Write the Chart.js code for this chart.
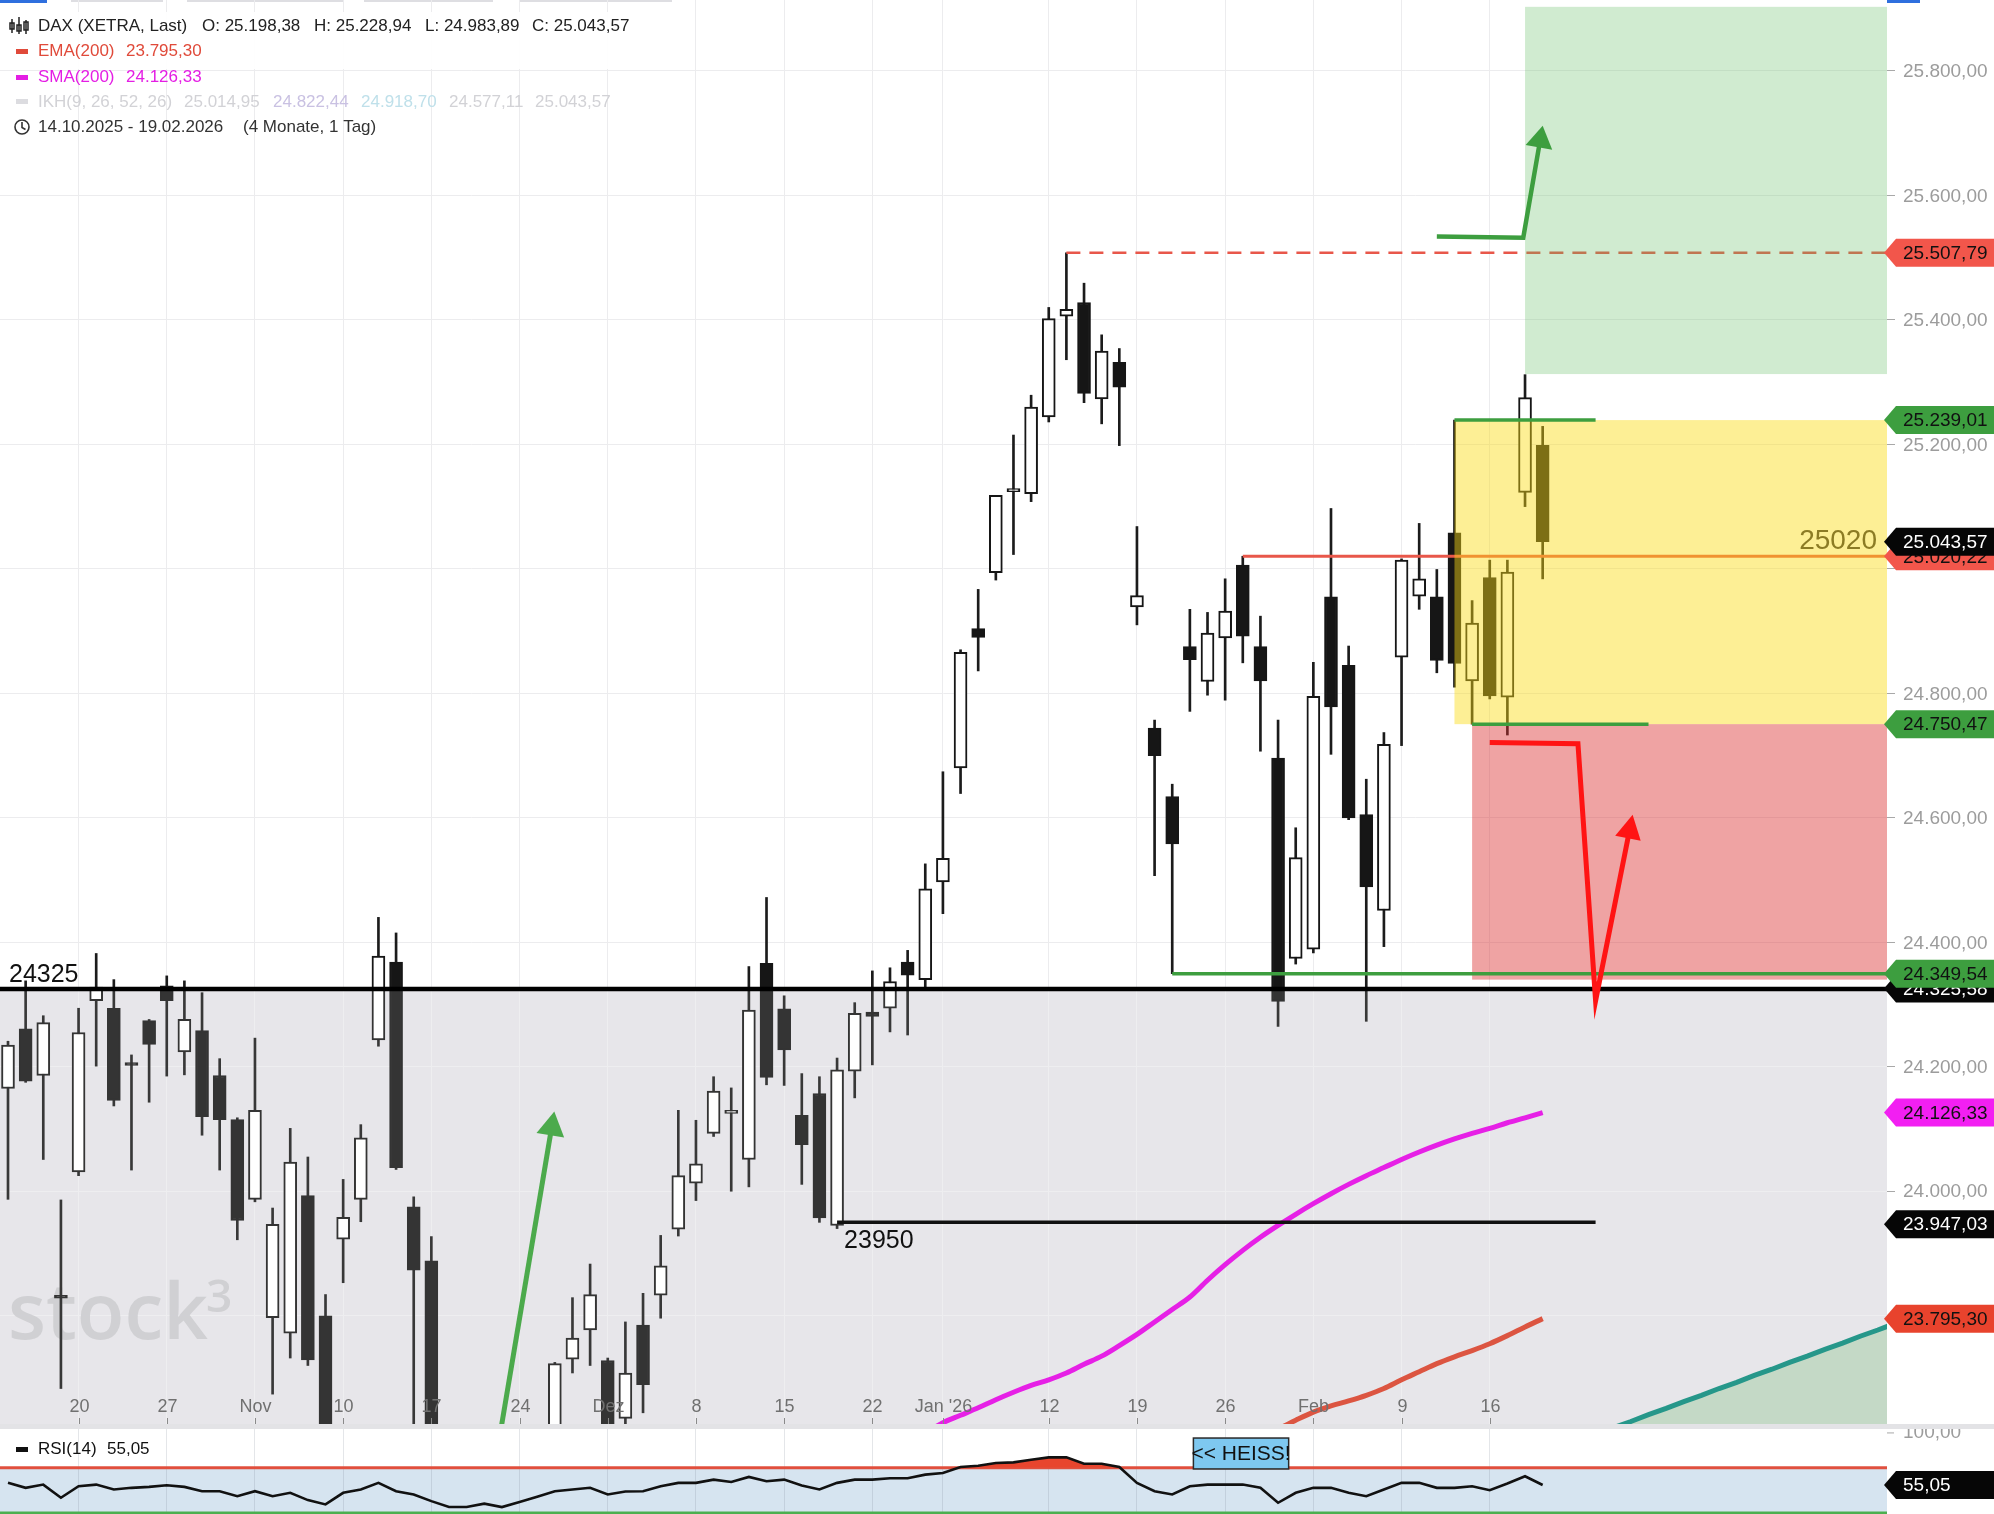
<!DOCTYPE html>
<html>
<head>
<meta charset="utf-8">
<title>DAX (XETRA) – Tageschart</title>
<script src="https://cdn.jsdelivr.net/npm/chart.js@4.4.1/dist/chart.umd.min.js"></script>
<style>
  html, body { margin: 0; padding: 0; background: #ffffff; }
  #wrap { position: relative; width: 1994px; height: 1514px; overflow: hidden; background: #ffffff; }
  #main { position: absolute; left: 0; top: 0; width: 1994px; height: 1424px; }
  #sep { position: absolute; left: 0; top: 1424px; width: 1994px; height: 5px; background: #e3e3e6; }
  #rsi { position: absolute; left: 0; top: 1429px; width: 1994px; height: 85px; }
</style>
</head>
<body>
<div id="wrap">
  <canvas id="main" width="1994" height="1424"></canvas>
  <div id="sep"></div>
  <canvas id="rsi" width="1994" height="85"></canvas>
</div>
<script>
// ---------- trading sessions (XETRA) ----------
const sessions = [
  '14.10.2025','15.10.2025','16.10.2025','17.10.2025','20.10.2025','21.10.2025','22.10.2025','23.10.2025','24.10.2025',
  '27.10.2025','28.10.2025','29.10.2025','30.10.2025','31.10.2025',
  '03.11.2025','04.11.2025','05.11.2025','06.11.2025','07.11.2025','10.11.2025','11.11.2025','12.11.2025','13.11.2025','14.11.2025',
  '17.11.2025','18.11.2025','19.11.2025','20.11.2025','21.11.2025','24.11.2025','25.11.2025','26.11.2025','27.11.2025','28.11.2025',
  '01.12.2025','02.12.2025','03.12.2025','04.12.2025','05.12.2025','08.12.2025','09.12.2025','10.12.2025','11.12.2025','12.12.2025',
  '15.12.2025','16.12.2025','17.12.2025','18.12.2025','19.12.2025','22.12.2025','23.12.2025','29.12.2025','30.12.2025',
  '02.01.2026','05.01.2026','06.01.2026','07.01.2026','08.01.2026','09.01.2026','12.01.2026','13.01.2026','14.01.2026','15.01.2026','16.01.2026',
  '19.01.2026','20.01.2026','21.01.2026','22.01.2026','23.01.2026','26.01.2026','27.01.2026','28.01.2026','29.01.2026','30.01.2026',
  '02.02.2026','03.02.2026','04.02.2026','05.02.2026','06.02.2026','09.02.2026','10.02.2026','11.02.2026','12.02.2026','13.02.2026',
  '16.02.2026','17.02.2026','18.02.2026','19.02.2026'
];

// ---------- OHLC ----------
const open = [
  24165,24261,24186,23832,24031,24306,24294,24204,24274,24330,
  24224,24258,24186,24115,23987,23797,23772,23993,23800,23923,
  23987,24243,24368,23975,23888,23560,23300,23250,23220,23150,
  23250,23460,23730,23777,23728,23635,23785,23833,23939,24013,
  24093,24125,24051,24366,24293,24122,24157,23945,24193,24288,
  24294,24368,24340,24497,24680,24904,24994,25124,25121,25244,
  25406,25428,25273,25332,24939,24744,24634,24875,24819,24889,
  25006,24875,24696,24374,24389,24955,24845,24605,24451,24858,
  24956,24955,25058,24820,24986,24794,25123,25198.38
];
const high = [
  24241,24338,24282,23986,24294,24382,24340,24219,24276,24346,
  24338,24319,24213,24118,24246,23973,24101,24055,23834,24019,
  24107,24440,24415,23991,23927,23600,23380,23520,23330,23290,
  23510,23725,23829,23883,23732,23790,23836,23929,24130,24114,
  24184,24166,24361,24472,24314,24189,24184,24214,24303,24354,
  24359,24387,24526,24674,24870,24967,25118,25215,25279,25420,
  25507.79,25459,25376,25354,25068,24757,24654,24935,24930,24984,
  25020.22,24924,24757,24584,24850,25097,24876,24662,24737,25016,
  25073,24999,25239.01,24949,25014,25014,25312,25228.94
];
const low = [
  23987,24175,24051,23683,24025,24201,24137,24034,24143,24185,
  24187,24090,24034,23922,23983,23674,23732,23720,23450,23853,
  23951,24233,24035,23520,23510,23230,23140,23120,22960,23060,
  23200,23440,23708,23720,23560,23600,23644,23796,23928,23985,
  24088,24000,24007,24171,24170,24011,23950,23940,24150,24203,
  24256,24251,24324,24446,24639,24836,24982,25023,25108,25236,
  25336,25267,25233,25198,24910,24507,24349.54,24771,24797,24789,
  24849,24707,24265,24365,24383,24702,24597,24273,24393,24716,
  24935,24833,24810,24750.47,24791,24733,25100,24983.89
];
const close = [
  24235,24177,24271,23828,24255,24328,24146,24202,24236,24306,
  24276,24120,24115,23953,24130,23947,24047,23729,23520,23958,
  24086,24378,24038,23873,23560,23280,23180,23300,23090,23240,
  23460,23723,23764,23834,23590,23708,23689,23880,24025,24044,
  24161,24129,24291,24183,24227,24075,23957,24195,24286,24281,
  24337,24347,24486,24535,24866,24890,25118,25128,25260,25402,
  25417,25282,25350,25292,24957,24700,24558,24854,24897,24932,
  24892,24820,24305,24536,24795,24778,24600,24489,24718,25014,
  24984,24853,24848,24913,24796,24995,25275,25043.57
];

// ---------- moving averages (visible part) ----------
const sma200Start = 50;
const sma200 = [
  23590,23600,23612,23628,23640,23652,23665,23677,23688,23697,
  23708,23722,23735,23752,23770,23790,23810,23830,23857,23882,
  23905,23926,23945,23963,23980,23996,24011,24025,24038,24051,
  24063,24074,24084,24093,24101,24110,24118,24126.33
];
const ema200Start = 70;
const ema200 = [
  23590,23605,23618,23632,23645,23655,23663,23672,23683,23697,
  23710,23723,23734,23744,23755,23768,23782,23795.30
];

// ---------- Ichimoku span projected into the future ----------
const cloudStart = 88;
const cloudSpan = [
  23588,23599,23609,23620,23630,23641,23651,23662,23672,23683,
  23693,23704,23714,23725,23735,23746,23756,23767,23777,23788
];

// ---------- RSI(14) ----------
const rsi14 = [
  56.9,52.6,55.4,44.0,54.0,55.4,51.2,52.6,53.4,54.8,
  53.4,49.7,49.7,45.4,49.7,45.4,48.3,42.0,38.3,48.3,
  51.2,56.9,49.7,46.9,41.1,36.0,36.0,38.9,36.0,40.3,
  44.9,49.7,51.2,52.6,46.9,49.4,49.7,54.0,56.9,56.9,
  59.7,57.7,62.0,58.3,59.7,54.6,51.2,56.9,59.7,59.7,
  60.9,60.9,64.0,65.4,70.6,71.7,74.0,74.6,76.9,78.9,
  78.9,73.4,73.4,70.6,56.9,49.7,46.9,54.0,55.4,55.4,
  55.4,52.6,39.7,48.3,52.6,52.6,48.3,45.4,51.2,56.9,
  56.9,52.6,52.6,54.0,50.6,56.3,62.6,55.05
];

// ---------- axes ----------
const weekTickIdx = [4, 9, 14, 19, 24, 29, 34, 39, 44, 49, 53, 59, 64, 69, 74, 79, 84];
const weekTickLbl = ['20', '27', 'Nov', '10', '17', '24', 'Dez', '8', '15', '22', "Jan '26", '12', '19', '26', 'Feb', '9', '16'];
const xMin = -0.4535;
const xMax = 106.52;
const priceMin = 23626;
const priceMax = 25914;
const priceStep = 200;
const hiddenPriceTicks = [25000, 23800];

// ---------- drawn levels and trade setup ----------
const supportLevel = 24325;
const lowerLevel = 23950;
const lowerLevelSpan = [47, 90];
const highLevel = 25507.79;
const highLevelStart = 60;
const midLevel = 25020.22;
const midLevelStart = 70;
const midLevelText = '25020';
const swingLow = 24349.54;
const swingLowStart = 66;
const entryHigh = 25239.01;
const entrySpan = [82, 90];
const stopLevel = 24750.47;
const stopSpan = [83, 93];
const riskZoneBottom = 24340;
const targetZone = [86, 25313, 25903];

// arrows as [session index, price]
const upArrowPath = [[81.0, 25534], [85.9, 25532], [87.0, 25712]];
const downArrowPath = [[84.0, 24721], [89.0, 24719], [90.0, 24306], [92.1, 24605]];
const riseArrowPath = [[27.75, 23585], [30.97, 24128]];

// price tags on the right axis
const tagValues = [25507.79, 25239.01, 25020.22, 25043.57, 24750.47, 24325.58, 24349.54, 24126.33, 23947.03, 23795.30];
const tagFills  = ['#f2564b', '#3d9e3f', '#f2564b', '#060606', '#3d9e3f', '#060606', '#3d9e3f', '#f21ff2', '#060606', '#e8432d'];
const tagInks   = ['#111111', '#111111', '#111111', '#ffffff', '#111111', '#ffffff', '#111111', '#111111', '#ffffff', '#111111'];

// RSI annotations
const rsiUpper = 70;
const rsiLower = 30;
const rsiMin = 30;
const rsiMax = 103.4;
const hotBox = [67.2, 72.6, 95.6, 68.9];

// ---------- helpers ----------
const FONT = '"Liberation Sans", Arial, Helvetica, sans-serif';
Chart.defaults.font.family = FONT;

function fmtDE(v) {
  const s = Math.abs(v).toFixed(2).split('.');
  const int = s[0].replace(/\B(?=(\d{3})+(?!\d))/g, '.');
  return (v < 0 ? '-' : '') + int + ',' + s[1];
}

function drawTag(ctx, left, right, yc, text, fill, ink) {
  const h = 28;
  ctx.beginPath();
  ctx.moveTo(left - 3, yc);
  ctx.lineTo(left + 9, yc - h / 2);
  ctx.lineTo(right, yc - h / 2);
  ctx.lineTo(right, yc + h / 2);
  ctx.lineTo(left + 9, yc + h / 2);
  ctx.closePath();
  ctx.fillStyle = fill;
  ctx.fill();
  ctx.fillStyle = ink;
  ctx.font = '19px ' + FONT;
  ctx.textAlign = 'left';
  ctx.textBaseline = 'middle';
  ctx.fillText(text, left + 16, yc + 1);
}

function drawArrow(ctx, pts, color, lw, headLen, headW) {
  const n = pts.length;
  const [tx, ty] = pts[n - 1];
  const [sx, sy] = pts[n - 2];
  const ang = Math.atan2(ty - sy, tx - sx);
  const c = Math.cos(ang), s = Math.sin(ang);
  const bx = tx - c * headLen, by = ty - s * headLen;
  ctx.strokeStyle = color;
  ctx.lineWidth = lw;
  ctx.lineJoin = 'miter';
  ctx.lineCap = 'butt';
  ctx.beginPath();
  ctx.moveTo(pts[0][0], pts[0][1]);
  for (let i = 1; i < n - 1; i++) ctx.lineTo(pts[i][0], pts[i][1]);
  ctx.lineTo(bx + c * 2, by + s * 2);
  ctx.stroke();
  ctx.fillStyle = color;
  ctx.beginPath();
  ctx.moveTo(tx, ty);
  ctx.lineTo(bx - s * headW / 2, by + c * headW / 2);
  ctx.lineTo(bx + s * headW / 2, by - c * headW / 2);
  ctx.closePath();
  ctx.fill();
}

function hLine(ctx, x0, x1, y, color, w, dash) {
  ctx.save();
  ctx.strokeStyle = color;
  ctx.lineWidth = w;
  ctx.setLineDash(dash || []);
  ctx.beginPath();
  ctx.moveTo(x0, y);
  ctx.lineTo(x1, y);
  ctx.stroke();
  ctx.restore();
}

// ---------- datasets ----------
const idx = sessions.map((_, i) => i);
const wickData = idx.map(i => ({ x: i, y: [low[i], high[i]] }));
const bodyData = idx.map(i => ({ x: i, y: [open[i], close[i]] }));
const bodyFill = idx.map(i => (close[i] >= open[i] ? '#ffffff' : '#161616'));
const smaData = sma200.map((v, k) => ({ x: sma200Start + k, y: v }));
const emaData = ema200.map((v, k) => ({ x: ema200Start + k, y: v }));
const cloudData = cloudSpan.map((v, k) => ({ x: cloudStart + k, y: v }));
const rsiData = rsi14.map((v, i) => ({ x: i, y: v }));

const BODY_DS = 1;

function timeAxis(gridColor) {
  return {
    type: 'linear', min: xMin, max: xMax, offset: false,
    border: { display: false },
    ticks: { display: false },
    grid: { color: gridColor, lineWidth: 1, drawTicks: false, offset: false },
    afterBuildTicks: (s) => { s.ticks = weekTickIdx.map(v => ({ value: v })); },
    afterFit: (s) => { s.height = 0; }
  };
}

// ---------- main price panel decorations ----------
const mainDecor = {
  id: 'mainDecor',
  beforeDraw(chart) {
    const { ctx, chartArea: a, scales: { y } } = chart;
    ctx.save();
    ctx.fillStyle = '#ffffff';
    ctx.fillRect(0, 0, chart.width, chart.height);
    const ys = y.getPixelForValue(supportLevel);
    ctx.fillStyle = '#e4e3e7';
    ctx.fillRect(a.left, ys, a.right - a.left, a.bottom - ys);
    // tab strip along the top edge
    ctx.fillStyle = '#2f6fde';
    ctx.fillRect(0, 0, 47, 3);
    ctx.fillRect(1887, 0, 33, 3);
    ctx.fillStyle = '#dedee2';
    [[71, 163], [187, 344], [364, 493], [520, 672]].forEach(([l, r]) => ctx.fillRect(l, 0, r - l, 2));
    ctx.restore();
  },
  beforeDatasetsDraw(chart) {
    const { ctx } = chart;
    ctx.save();
    ctx.fillStyle = 'rgba(196,196,200,0.85)';
    ctx.textBaseline = 'alphabetic';
    ctx.textAlign = 'left';
    ctx.font = '600 78px "Open Sans", ' + FONT;
    ctx.fillText('stock', 8, 1339);
    ctx.font = '600 46px "Open Sans", ' + FONT;
    ctx.fillText('3', 206, 1312);
    ctx.restore();
  },
  afterDatasetDraw(chart, args) {
    if (args.index !== BODY_DS) return;
    const { ctx, chartArea: a, scales: { y } } = chart;
    const ys = y.getPixelForValue(supportLevel);
    ctx.save();
    ctx.fillStyle = 'rgba(255,255,255,0.13)';
    ctx.fillRect(a.left, ys, a.right - a.left, a.bottom - ys);
    ctx.restore();
  },
  afterDatasetsDraw(chart) {
    const { ctx, chartArea: a, scales: { x, y } } = chart;
    const X = v => x.getPixelForValue(v);
    const Y = v => y.getPixelForValue(v);
    ctx.save();
    ctx.beginPath();
    ctx.rect(a.left, a.top, a.right - a.left, a.bottom - a.top);
    ctx.clip();

    // horizontal levels
    hLine(ctx, X(highLevelStart), a.right, Y(highLevel), '#e8574a', 2.5, [14, 9]);
    hLine(ctx, X(midLevelStart), a.right, Y(midLevel), '#e8574a', 3);
    hLine(ctx, X(lowerLevelSpan[0]), X(lowerLevelSpan[1]), Y(lowerLevel), '#111111', 3.5);
    hLine(ctx, a.left, a.right, Y(supportLevel), '#000000', 4.5);

    // trade setup zones
    ctx.fillStyle = 'rgba(250,220,20,0.45)';
    ctx.fillRect(X(entrySpan[0]), Y(entryHigh), a.right - X(entrySpan[0]), Y(stopLevel) - Y(entryHigh));
    ctx.fillStyle = 'rgba(220,50,50,0.45)';
    ctx.fillRect(X(stopSpan[0]), Y(stopLevel), a.right - X(stopSpan[0]), Y(riskZoneBottom) - Y(stopLevel));
    ctx.fillStyle = 'rgba(100,190,100,0.30)';
    ctx.fillRect(X(targetZone[0]), Y(targetZone[2]), a.right - X(targetZone[0]), Y(targetZone[1]) - Y(targetZone[2]));

    hLine(ctx, X(entrySpan[0]), X(entrySpan[1]), Y(entryHigh), '#3d9e3f', 3.5);
    hLine(ctx, X(stopSpan[0]), X(stopSpan[1]), Y(stopLevel), '#3d9e3f', 3.5);
    hLine(ctx, X(swingLowStart), a.right, Y(swingLow), '#3d9e3f', 3.5);

    // arrows
    const toPx = path => path.map(([i, v]) => [X(i), Y(v)]);
    drawArrow(ctx, toPx(upArrowPath), '#3d9e3f', 4.5, 22, 27);
    drawArrow(ctx, toPx(downArrowPath), '#ff1414', 5, 24, 26);
    drawArrow(ctx, toPx(riseArrowPath), '#4caa4c', 5, 24, 28);

    // level captions
    ctx.fillStyle = '#111111';
    ctx.font = '25px ' + FONT;
    ctx.textAlign = 'left';
    ctx.textBaseline = 'alphabetic';
    ctx.fillText(String(supportLevel), a.left + 9, Y(supportLevel) - 7);
    ctx.textBaseline = 'top';
    ctx.fillText(String(lowerLevel), X(lowerLevelSpan[0]) + 7, Y(lowerLevel) + 6);
    ctx.fillStyle = '#8c7b24';
    ctx.font = '28px ' + FONT;
    ctx.textAlign = 'right';
    ctx.textBaseline = 'alphabetic';
    ctx.fillText(midLevelText, a.right - 10, Y(midLevel) - 7);

    // time labels inside the panel
    ctx.fillStyle = '#707070';
    ctx.font = '18px ' + FONT;
    ctx.textAlign = 'center';
    ctx.textBaseline = 'middle';
    ctx.strokeStyle = '#8a8a8a';
    ctx.lineWidth = 1;
    weekTickIdx.forEach((i, k) => {
      const px = Math.round(X(i)) + 0.5;
      ctx.fillText(weekTickLbl[k], px, a.bottom - 17);
      ctx.beginPath();
      ctx.moveTo(px, a.bottom - 6);
      ctx.lineTo(px, a.bottom);
      ctx.stroke();
    });
    ctx.restore();
  },
  afterDraw(chart) {
    const { ctx, chartArea: a, scales: { y } } = chart;
    ctx.save();
    // price scale labels
    ctx.fillStyle = '#9c9c9c';
    ctx.font = '19px ' + FONT;
    ctx.textAlign = 'left';
    ctx.textBaseline = 'middle';
    for (let v = Math.ceil(priceMin / priceStep) * priceStep; v <= priceMax; v += priceStep) {
      if (hiddenPriceTicks.includes(v)) continue;
      ctx.fillText(fmtDE(v), a.right + 16, y.getPixelForValue(v) + 1);
    }

    // price tags
    tagValues.forEach((v, k) => drawTag(ctx, a.right, chart.width, y.getPixelForValue(v), fmtDE(v), tagFills[k], tagInks[k]));

    // legend block
    ctx.fillStyle = 'rgba(255,255,255,0.92)';
    ctx.fillRect(0, 12, 640, 57);
    ctx.textAlign = 'left';
    ctx.textBaseline = 'middle';
    ctx.font = '17px ' + FONT;

    // candle glyph
    ctx.strokeStyle = '#222'; ctx.fillStyle = '#222'; ctx.lineWidth = 1.5;
    [[12, 19, 33, 23, 29], [19, 17, 34, 25, 31], [26, 20, 34, 22, 30]].forEach(([cx, t, b, bt, bb]) => {
      ctx.beginPath(); ctx.moveTo(cx, t); ctx.lineTo(cx, b); ctx.stroke();
      ctx.strokeRect(cx - 2, bt, 4, bb - bt);
    });
    ctx.fillStyle = '#222';
    ctx.fillText('DAX (XETRA, Last)', 38, 26);
    ctx.fillText('O: 25.198,38', 202, 26);
    ctx.fillText('H: 25.228,94', 314, 26);
    ctx.fillText('L: 24.983,89', 425, 26);
    ctx.fillText('C: 25.043,57', 532, 26);

    ctx.fillStyle = '#e04a3a';
    ctx.fillRect(16, 49, 12, 5);
    ctx.fillText('EMA(200)', 38, 51.5);
    ctx.fillText('23.795,30', 126, 51.5);

    ctx.fillStyle = '#e41ee4';
    ctx.fillRect(16, 75, 12, 5);
    ctx.fillText('SMA(200)', 38, 77.5);
    ctx.fillText('24.126,33', 126, 77.5);

    ctx.fillStyle = '#dcdce0';
    ctx.fillRect(16, 99, 12, 5);
    ctx.fillStyle = '#d2d2d6';
    ctx.fillText('IKH(9, 26, 52, 26)', 38, 102);
    ctx.fillText('25.014,95', 184, 102);
    ctx.fillStyle = '#c9c1e2';
    ctx.fillText('24.822,44', 273, 102);
    ctx.fillStyle = '#bfe0ea';
    ctx.fillText('24.918,70', 361, 102);
    ctx.fillStyle = '#d2d2d6';
    ctx.fillText('24.577,11', 449, 102);
    ctx.fillText('25.043,57', 535, 102);

    // clock
    ctx.strokeStyle = '#333'; ctx.lineWidth = 1.6;
    ctx.beginPath(); ctx.arc(22, 127, 7, 0, Math.PI * 2); ctx.stroke();
    ctx.beginPath(); ctx.moveTo(22, 122); ctx.lineTo(22, 127.5); ctx.lineTo(25.5, 129.5); ctx.stroke();
    ctx.fillStyle = '#333';
    ctx.fillText('14.10.2025 - 19.02.2026', 38, 127);
    ctx.fillText('(4 Monate, 1 Tag)', 243, 127);
    ctx.restore();
  }
};

new Chart(document.getElementById('main'), {
  type: 'bar',
  data: {
    datasets: [
      { type: 'bar', label: 'Docht', data: wickData, order: 6, grouped: false, barThickness: 2,
        backgroundColor: '#1b1b1b', borderWidth: 0, borderSkipped: false, minBarLength: 1 },
      { type: 'bar', label: 'Kerze', data: bodyData, order: 5, grouped: false, barThickness: 13,
        backgroundColor: bodyFill, borderColor: '#161616', borderWidth: 2, borderSkipped: false, minBarLength: 3 },
      { type: 'line', label: 'IKH', data: cloudData, order: 4, borderColor: '#26978a', borderWidth: 5,
        pointRadius: 0, fill: 'start', backgroundColor: 'rgba(120,190,120,0.32)', tension: 0, clip: 0 },
      { type: 'line', label: 'EMA(200)', data: emaData, order: 3, borderColor: '#dc5541', borderWidth: 5,
        pointRadius: 0, fill: false, tension: 0.4, cubicInterpolationMode: 'monotone' },
      { type: 'line', label: 'SMA(200)', data: smaData, order: 2, borderColor: '#e620e6', borderWidth: 5,
        pointRadius: 0, fill: false, tension: 0.4, cubicInterpolationMode: 'monotone' }
    ]
  },
  options: {
    responsive: false,
    animation: false,
    devicePixelRatio: 1,
    layout: { padding: 0, autoPadding: false },
    plugins: { legend: { display: false }, tooltip: { enabled: false } },
    events: [],
    scales: {
      x: timeAxis('#ececee'),
      y: {
        position: 'right', min: priceMin, max: priceMax,
        border: { display: false },
        grid: { color: '#ececee', tickColor: '#a8a8a8', tickLength: 8, drawTicks: true },
        ticks: { display: false, stepSize: priceStep, includeBounds: false },
        afterFit: s => { s.width = 107; }
      }
    }
  },
  plugins: [mainDecor]
});

// ---------- RSI panel ----------
const rsiDecor = {
  id: 'rsiDecor',
  beforeDraw(chart) {
    const { ctx, chartArea: a, scales: { y } } = chart;
    ctx.save();
    ctx.fillStyle = '#ffffff';
    ctx.fillRect(0, 0, chart.width, chart.height);
    const yu = y.getPixelForValue(rsiUpper);
    ctx.fillStyle = '#d6e4f0';
    ctx.fillRect(a.left, yu, a.right - a.left, a.bottom - yu);
    ctx.restore();
  },
  beforeDatasetsDraw(chart) {
    const { ctx, chartArea: a, scales: { y } } = chart;
    hLine(ctx, a.left, a.right, y.getPixelForValue(rsiUpper), '#e0503f', 3);
    hLine(ctx, a.left, a.right, y.getPixelForValue(rsiLower) - 1, '#4caf50', 3);
  },
  afterDraw(chart) {
    const { ctx, chartArea: a, scales: { x, y } } = chart;
    ctx.save();
    // legend
    ctx.fillStyle = '#111';
    ctx.fillRect(16, 18, 12, 5);
    ctx.font = '17px ' + FONT;
    ctx.textAlign = 'left';
    ctx.textBaseline = 'middle';
    ctx.fillText('RSI(14)', 38, 20);
    ctx.fillText(rsi14[rsi14.length - 1].toFixed(2).replace('.', ','), 107, 20);

    // overbought marker
    const bx0 = x.getPixelForValue(hotBox[0]), bx1 = x.getPixelForValue(hotBox[1]);
    const by0 = y.getPixelForValue(hotBox[2]), by1 = y.getPixelForValue(hotBox[3]);
    ctx.fillStyle = '#7ec8f0';
    ctx.fillRect(bx0, by0, bx1 - bx0, by1 - by0);
    ctx.strokeStyle = '#2a2a2a';
    ctx.lineWidth = 1.5;
    ctx.strokeRect(bx0, by0, bx1 - bx0, by1 - by0);
    ctx.fillStyle = '#111';
    ctx.font = '21px "Liberation Sans Narrow", ' + FONT;
    ctx.textAlign = 'center';
    ctx.fillText('<< HEISS!', (bx0 + bx1) / 2, (by0 + by1) / 2 + 1);

    // axis
    const y100 = y.getPixelForValue(100);
    ctx.strokeStyle = '#a8a8a8';
    ctx.lineWidth = 1;
    ctx.beginPath(); ctx.moveTo(a.right, y100); ctx.lineTo(a.right + 7, y100); ctx.stroke();
    ctx.fillStyle = '#9c9c9c';
    ctx.font = '19px ' + FONT;
    ctx.textAlign = 'left';
    ctx.fillText('100,00', a.right + 16, y100);
    const last = rsi14[rsi14.length - 1];
    drawTag(ctx, a.right, chart.width, y.getPixelForValue(last), last.toFixed(2).replace('.', ','), '#060606', '#ffffff');
    ctx.restore();
  }
};

new Chart(document.getElementById('rsi'), {
  type: 'line',
  data: {
    datasets: [{
      label: 'RSI(14)', data: rsiData, borderColor: '#111111', borderWidth: 2.6,
      pointRadius: 0, tension: 0,
      fill: { target: { value: rsiUpper }, above: '#e8452e', below: 'rgba(0,0,0,0)' }
    }]
  },
  options: {
    responsive: false,
    animation: false,
    devicePixelRatio: 1,
    layout: { padding: 0, autoPadding: false },
    plugins: { legend: { display: false }, tooltip: { enabled: false } },
    events: [],
    scales: {
      x: timeAxis('rgba(120,130,145,0.2)'),
      y: {
        position: 'right', min: rsiMin, max: rsiMax,
        border: { display: false },
        grid: { display: false },
        ticks: { display: false },
        afterFit: s => { s.width = 107; }
      }
    }
  },
  plugins: [rsiDecor]
});
</script>
</body>
</html>
